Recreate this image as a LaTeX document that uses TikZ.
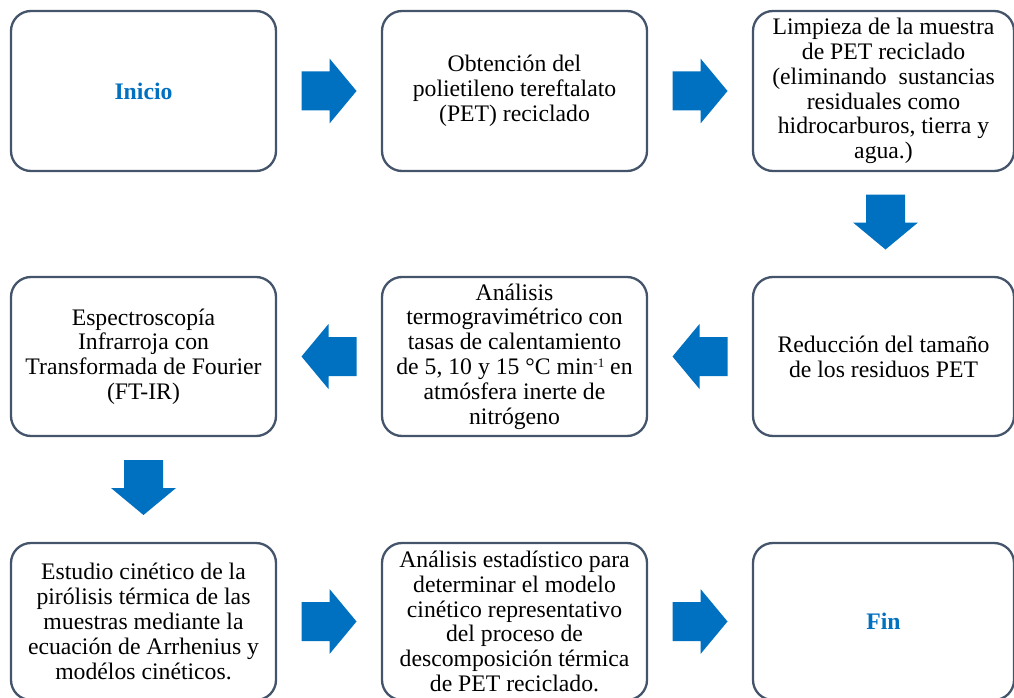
\documentclass[tikz,border=0pt]{standalone}
\usepackage{fontspec}
\setmainfont{Liberation Serif}
\usetikzlibrary{calc}
\definecolor{boxline}{HTML}{44546A}
\definecolor{arrowblue}{HTML}{0070C0}
\newcommand{\mysup}[1]{\raisebox{0.3em}{\fontsize{13}{13}\selectfont #1}}
\tikzset{
  box/.style={draw=boxline, line width=2.3pt, rounded corners=20pt, fill=white,
    align=center, inner sep=0pt, font=\fontsize{23.7}{24.8}\selectfont},
  row1/.style={minimum height=160pt},
  row2/.style={minimum height=159pt},
  row3/.style={minimum height=157pt},
  wide/.style={minimum width=265pt},
  barrow/.pic={\fill[arrowblue] (-27.5,-19.5) -- (0.5,-19.5) -- (0.5,-32.5) -- (27.5,0)
     -- (0.5,32.5) -- (0.5,19.5) -- (-27.5,19.5) -- cycle;}
}
\begin{document}
\begin{tikzpicture}[x=1pt,y=-1pt]
\useasboundingbox (0,0) rectangle (1014,698);
\clip (0,0) rectangle (1014,698);
% row 1
\node[box,row1,wide] (b1) at (143.5,91) {\textcolor{arrowblue}{\bfseries Inicio}};
\node[box,row1,wide] (b2) at (514.5,91) {Obtención del\\polietileno tereftalato\\(PET) reciclado};
\node[box,row1,minimum width=261pt] (b3) at (883.5,91) {Limpieza de la muestra\\de PET reciclado\\(eliminando\ \ sustancias\\residuales como\\hidrocarburos, tierra y\\agua.)};
% row 2
\node[box,row2,minimum width=261pt] (b4) at (883.5,356.5) {Reducción del tamaño\\de los residuos PET};
\node[box,row2,wide] (b5) at (514.5,356.5) {Análisis\\termogravimétrico con\\tasas de calentamiento\\de 5, 10 y 15 °C min\mysup{-1} en\\atmósfera inerte de\\nitrógeno};
\node[box,row2,wide] (b6) at (143.5,356.5) {Espectroscopía\\Infrarroja con\\Transformada de Fourier\\(FT-IR)};
% row 3
\node[box,row3,wide] (b7) at (143.5,621.5) {Estudio cinético de la\\pirólisis térmica de las\\muestras mediante la\\ecuación de Arrhenius y\\modélos cinéticos.};
\node[box,row3,wide] (b8) at (514.5,621.5) {Análisis estadístico para\\determinar el modelo\\cinético representativo\\del proceso de\\descomposición térmica\\de PET reciclado.};
\node[box,row3,minimum width=261pt] (b9) at (883.5,621.5) {\textcolor{arrowblue}{\bfseries Fin}};
% block arrows between the boxes
\pic at ($(b1.east)!0.5!(b2.west)$) {barrow};
\pic at ($(b2.east)!0.5!(b3.west)$) {barrow};
\pic[rotate=-90] at ($(b3.south)!0.5!(b4.north)+(2,-2)$) {barrow};
\pic[rotate=180] at ($(b4.west)!0.5!(b5.east)$) {barrow};
\pic[rotate=180] at ($(b5.west)!0.5!(b6.east)$) {barrow};
\pic[rotate=-90] at ($(b6.south)!0.5!(b7.north)-(0,2)$) {barrow};
\pic at ($(b7.east)!0.5!(b8.west)$) {barrow};
\pic at ($(b8.east)!0.5!(b9.west)$) {barrow};
\end{tikzpicture}
\end{document}
